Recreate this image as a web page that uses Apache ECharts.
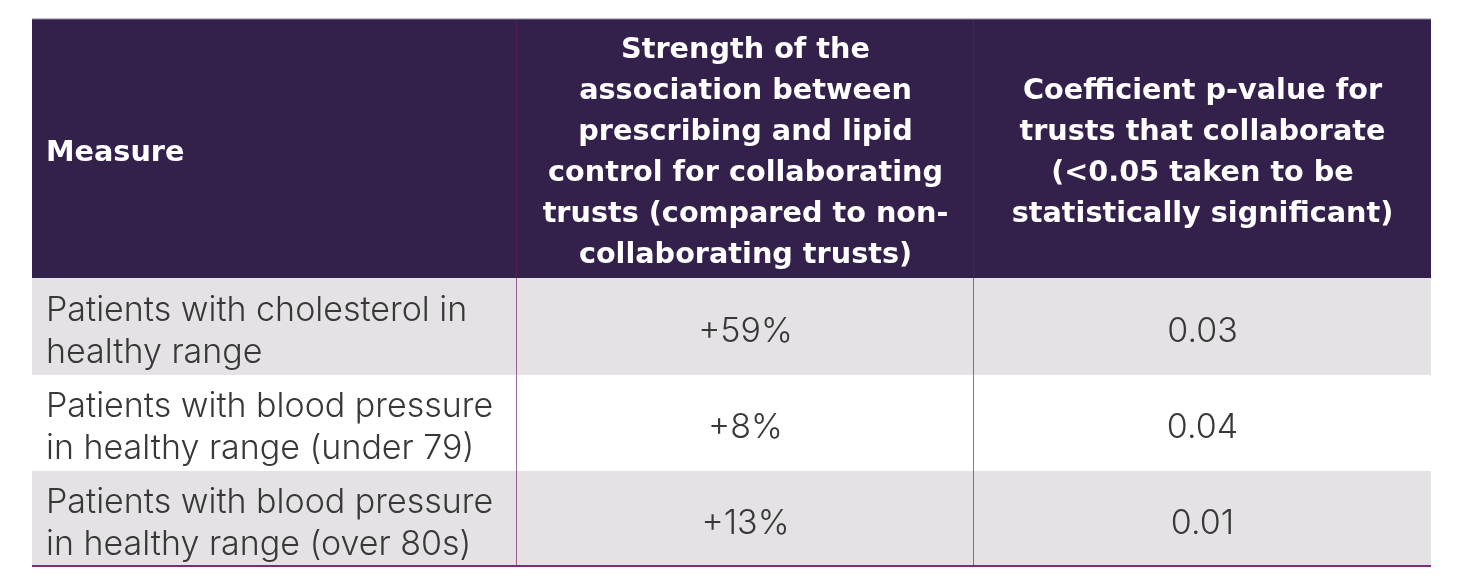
<!DOCTYPE html>
<html>
<head>
<meta charset="utf-8">
<script src="https://cdn.jsdelivr.net/npm/echarts@6/dist/echarts.min.js"></script>
<style>
html,body{margin:0;padding:0;background:#fff;}
#chart{width:1464px;height:580px;}
</style>
</head>
<body>
<div id="chart"></div>
<script>
// ---- data ----
const headers = [
  "Measure",
  "Strength of the\nassociation between\nprescribing and lipid\ncontrol for collaborating\ntrusts (compared to non-\ncollaborating trusts)",
  "Coefficient p-value for\ntrusts that collaborate\n(<0.05 taken to be\nstatistically significant)"
];
const measures = [
  "Patients with cholesterol in\nhealthy range",
  "Patients with blood pressure\nin healthy range (under 79)",
  "Patients with blood pressure\nin healthy range (over 80s)"
];
const strengthPct = [59, 8, 13];
const pValues = [0.03, 0.04, 0.01];

// ---- layout (axis units) ----
const colEdges = [0, 485, 942, 1399];
const rowEdges = [0, 259, 356, 452, 547];

const cells = [];
headers.forEach((h, c) => cells.push([c, 0, h]));
measures.forEach((m, i) => {
  cells.push([0, i + 1, m]);
  cells.push([1, i + 1, '+' + strengthPct[i] + '%']);
  cells.push([2, i + 1, pValues[i].toFixed(2)]);
});

const chart = echarts.init(document.getElementById('chart'), null, {renderer: 'canvas'});

function renderItem(params, api) {
  const c = api.value(0), r = api.value(1);
  const text = cells[params.dataIndex][2];
  const p0 = api.coord([colEdges[c], rowEdges[r]]);
  const p1 = api.coord([colEdges[c + 1], rowEdges[r + 1]]);
  const x = p0[0], y = p0[1], w = p1[0] - p0[0], h = p1[1] - p0[1];
  const isHeader = r === 0;
  let fill = isHeader ? '#33214c' : (r % 2 === 1 ? '#e4e2e4' : '#ffffff');
  const children = [{
    type: 'rect', shape: {x: x, y: y, width: w, height: h},
    style: {fill: fill}
  }];
  const left = c === 0;
  children.push({
    type: 'text',
    style: {
      text: text,
      x: left ? x + 14 : x + w / 2,
      y: y + h / 2 + (isHeader ? 5 : 5),
      align: left ? 'left' : 'center',
      verticalAlign: 'middle',
      fill: isHeader ? '#ffffff' : '#383838',
      font: isHeader ? 'bold 28.7px "DejaVu Sans", sans-serif' : '300 34px Inter, "Noto Sans", sans-serif',
      lineHeight: isHeader ? 41 : 42
    }
  });
  if (c < 2) {
    children.push({
      type: 'line', shape: {x1: x + w, y1: y, x2: x + w, y2: y + h},
      style: {stroke: '#6a1d60', lineWidth: 1.3}
    });
  }
  if (isHeader) {
    children.push({
      type: 'line', shape: {x1: x, y1: y, x2: x + w, y2: y},
      style: {stroke: '#8a8496', lineWidth: 1}
    });
  }
  if (r === rowEdges.length - 2) {
    children.push({
      type: 'line', shape: {x1: x, y1: y + h, x2: x + w, y2: y + h},
      style: {stroke: '#7b2d7c', lineWidth: 2}
    });
  }
  return {type: 'group', children: children};
}

chart.setOption({
  animation: false,
  grid: {left: 32, top: 19, width: 1399, height: 547},
  xAxis: {type: 'value', min: 0, max: 1399, show: false},
  yAxis: {type: 'value', min: 0, max: 547, inverse: true, show: false},
  series: [{
    type: 'custom',
    renderItem: renderItem,
    data: cells.map(d => [d[0], d[1]]),
    clip: false
  }]
});
</script>
</body>
</html>
